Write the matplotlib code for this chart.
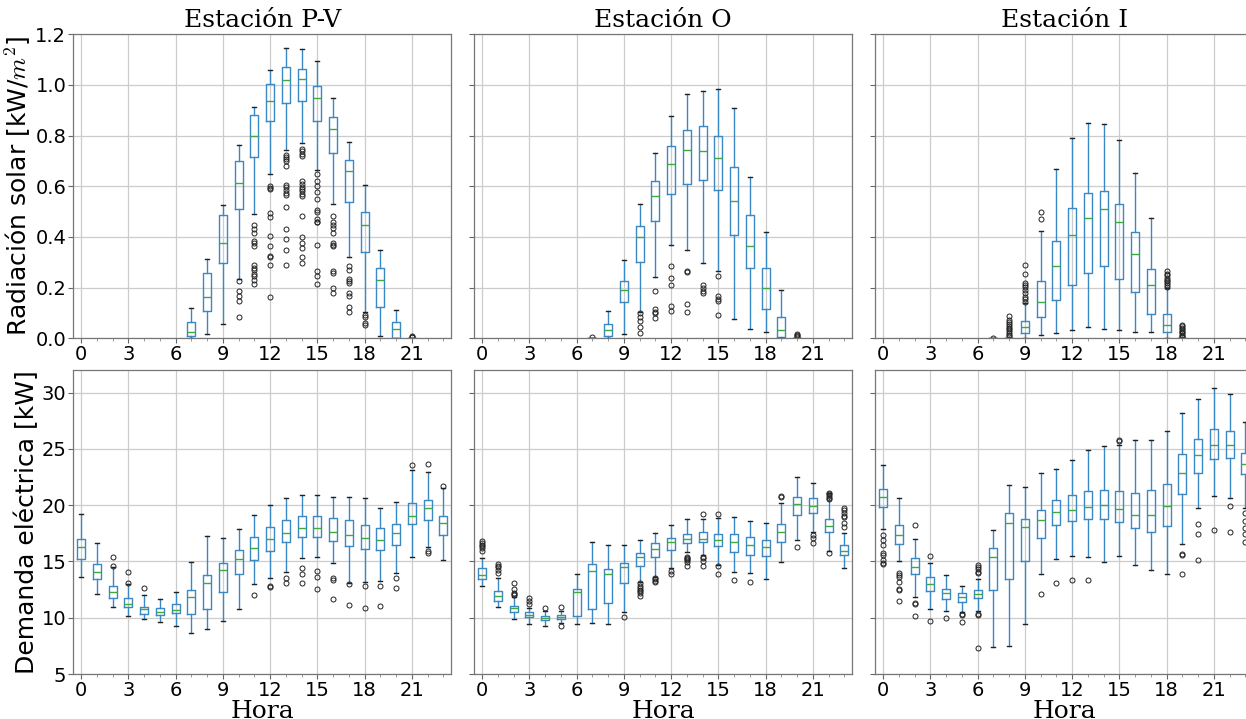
import matplotlib
matplotlib.use("Agg")
import matplotlib.pyplot as plt
from matplotlib.ticker import MultipleLocator

plt.rcParams['mathtext.fontset'] = 'cm'

HOURS = list(range(24))
STATIONS = ["Estación P-V", "Estación O", "Estación I"]
XTICKS = [0, 3, 6, 9, 12, 15, 18, 21]
N = None  # night hours: no radiation box drawn

# ---------------- Solar radiation [kW/m2] ----------------
pv_rad_q1 = [N]*7 + [0.009, 0.106, 0.297, 0.511, 0.716, 0.858, 0.930, 0.938, 0.859, 0.732, 0.537, 0.340, 0.125, 0.003, 0, N, N]
pv_rad_med = [N]*7 + [0.026, 0.162, 0.377, 0.613, 0.800, 0.938, 1.021, 1.025, 0.950, 0.827, 0.662, 0.446, 0.231, 0.036, 0, N, N]
pv_rad_q3 = [N]*7 + [0.066, 0.257, 0.485, 0.699, 0.881, 1.004, 1.069, 1.063, 0.997, 0.873, 0.703, 0.499, 0.277, 0.065, 0, N, N]
pv_rad_lo = [N]*7 + [0.0, 0.016, 0.058, 0.235, 0.491, 0.649, 0.743, 0.769, 0.664, 0.530, 0.319, 0.102, 0.009, 0.0, 0, N, N]
pv_rad_hi = [N]*7 + [0.119, 0.313, 0.525, 0.763, 0.913, 1.059, 1.146, 1.141, 1.095, 0.949, 0.776, 0.606, 0.350, 0.112, 0, N, N]
pv_rad_fl = {
    10: [0.228, 0.188, 0.168, 0.148, 0.083],
    11: [0.449, 0.430, 0.415, 0.385, 0.375, 0.365, 0.290, 0.278, 0.268, 0.255, 0.245, 0.232, 0.215],
    12: [0.602, 0.595, 0.590, 0.495, 0.479, 0.402, 0.365, 0.323, 0.320, 0.288, 0.162],
    13: [0.722, 0.715, 0.708, 0.700, 0.679, 0.607, 0.597, 0.585, 0.575, 0.567, 0.517, 0.430, 0.393, 0.350, 0.288],
    14: [0.749, 0.740, 0.728, 0.719, 0.622, 0.610, 0.598, 0.590, 0.580, 0.568, 0.560, 0.481, 0.400, 0.375, 0.356, 0.319, 0.297],
    15: [0.650, 0.620, 0.600, 0.578, 0.548, 0.505, 0.498, 0.470, 0.460, 0.458, 0.369, 0.264, 0.244, 0.216],
    16: [0.484, 0.460, 0.448, 0.435, 0.416, 0.376, 0.368, 0.363, 0.264, 0.257, 0.198, 0.178],
    17: [0.284, 0.268, 0.234, 0.228, 0.220, 0.180, 0.168, 0.123, 0.102],
    18: [0.092, 0.085, 0.062, 0.053],
    21: [0.004, 0.007, 0.010],
}

o_rad_q1 = [N]*7 + [0, 0.011, 0.142, 0.303, 0.464, 0.571, 0.609, 0.623, 0.586, 0.409, 0.278, 0.115, 0.004, 0, N, N, N]
o_rad_med = [N]*7 + [0, 0.032, 0.191, 0.400, 0.562, 0.689, 0.744, 0.740, 0.710, 0.542, 0.363, 0.198, 0.032, 0, N, N, N]
o_rad_q3 = [N]*7 + [0, 0.057, 0.228, 0.443, 0.620, 0.761, 0.823, 0.839, 0.799, 0.677, 0.488, 0.277, 0.086, 0, N, N, N]
o_rad_lo = [N]*7 + [0, 0.0, 0.016, 0.102, 0.241, 0.368, 0.350, 0.297, 0.264, 0.078, 0.038, 0.026, 0.0, 0, N, N, N]
o_rad_hi = [N]*7 + [0, 0.106, 0.310, 0.532, 0.730, 0.876, 0.963, 0.976, 0.983, 0.910, 0.637, 0.418, 0.191, 0, N, N, N]
o_rad_fl = {
    7: [0.004],
    10: [0.099, 0.086, 0.069, 0.046, 0.020],
    11: [0.187, 0.115, 0.105, 0.099, 0.079],
    12: [0.286, 0.240, 0.211, 0.129, 0.106],
    13: [0.266, 0.262, 0.136, 0.102],
    14: [0.211, 0.198, 0.188, 0.178],
    15: [0.247, 0.168, 0.155, 0.148, 0.091],
    20: [0.016, 0.012, 0.008, 0.004],
}

i_rad_q1 = [N]*7 + [0, 0, 0.020, 0.083, 0.150, 0.210, 0.259, 0.284, 0.234, 0.182, 0.096, 0.025, 0, N, N, N, N]
i_rad_med = [N]*7 + [0, 0, 0.044, 0.144, 0.284, 0.408, 0.475, 0.511, 0.458, 0.331, 0.211, 0.053, 0, N, N, N, N]
i_rad_q3 = [N]*7 + [0, 0.002, 0.070, 0.228, 0.384, 0.515, 0.574, 0.583, 0.530, 0.420, 0.273, 0.096, 0.002, N, N, N, N]
i_rad_lo = [N]*7 + [0, 0, 0.0, 0.013, 0.020, 0.032, 0.046, 0.038, 0.032, 0.025, 0.025, 0.0, 0, N, N, N, N]
i_rad_hi = [N]*7 + [0, 0.004, 0.140, 0.423, 0.669, 0.790, 0.851, 0.847, 0.782, 0.653, 0.475, 0.198, 0.004, N, N, N, N]
i_rad_fl = {
    7: [0.003],
    8: [0.088, 0.073, 0.065, 0.058, 0.050, 0.042, 0.035, 0.028, 0.020, 0.012, 0.008],
    9: [0.290, 0.255, 0.220, 0.210, 0.204, 0.189, 0.180, 0.165, 0.155, 0.145],
    10: [0.500, 0.472],
    18: [0.264, 0.255, 0.248, 0.240, 0.232, 0.225, 0.218, 0.210, 0.204],
    19: [0.053, 0.047, 0.040, 0.035, 0.030, 0.025, 0.020, 0.015, 0.010, 0.006],
}

# ---------------- Electric demand [kW] ----------------
pv_dem_q1 = [15.22, 13.41, 11.72, 10.92, 10.33, 10.24, 10.39, 10.33, 10.78, 12.26, 13.92, 15.10, 15.96, 16.73, 17.20, 17.14, 16.85, 16.40, 16.08, 15.99, 16.43, 18.30, 18.66, 17.35]
pv_dem_med = [16.32, 14.06, 12.26, 11.25, 10.78, 10.54, 10.66, 11.81, 13.06, 14.21, 15.19, 16.17, 16.97, 17.53, 17.94, 17.94, 17.65, 17.32, 17.06, 16.88, 17.50, 19.01, 19.72, 18.39]
pv_dem_q3 = [16.97, 14.78, 12.85, 11.72, 10.98, 10.84, 11.19, 12.46, 13.77, 14.83, 15.99, 17.14, 18.03, 18.68, 19.01, 19.01, 18.83, 18.68, 18.21, 17.94, 18.36, 20.23, 20.46, 19.01]
pv_dem_lo = [13.59, 12.11, 10.92, 10.18, 9.86, 9.59, 9.27, 8.61, 9.00, 9.71, 10.81, 12.97, 13.50, 14.03, 15.28, 15.37, 14.86, 13.06, 13.15, 13.29, 13.95, 15.37, 16.32, 15.10]
pv_dem_hi = [19.19, 16.61, 14.54, 13.00, 11.99, 11.69, 12.26, 14.98, 17.26, 17.06, 17.86, 19.13, 20.02, 20.67, 20.88, 20.88, 20.76, 20.73, 20.61, 19.72, 20.31, 23.13, 22.98, 21.50]
pv_dem_fl = {
    2: [14.60, 15.37], 3: [13.06, 14.09], 4: [12.61], 11: [11.99], 12: [12.85, 12.76],
    13: [13.50, 13.06], 14: [14.39, 13.92, 13.12], 15: [14.18, 13.62, 12.55],
    16: [13.50, 13.35, 11.63], 17: [13.00, 11.13], 18: [12.85, 10.89], 19: [12.79, 11.07],
    20: [13.50, 12.61], 21: [23.60], 22: [15.96, 15.72, 23.63], 23: [21.70],
}

o_dem_q1 = [13.41, 11.52, 10.48, 10.04, 9.77, 9.86, 10.15, 10.78, 11.34, 13.06, 14.63, 15.37, 15.99, 16.61, 16.70, 16.35, 15.81, 15.57, 15.52, 16.76, 19.13, 19.28, 17.62, 15.55]
o_dem_med = [13.77, 11.90, 10.84, 10.27, 9.98, 10.09, 12.29, 14.15, 13.92, 14.48, 15.40, 16.14, 16.70, 16.97, 17.03, 16.88, 16.70, 16.43, 16.26, 17.62, 20.08, 19.90, 18.15, 15.90]
o_dem_q3 = [14.39, 12.38, 11.07, 10.48, 10.18, 10.27, 12.52, 14.80, 14.36, 14.83, 15.72, 16.61, 17.11, 17.47, 17.62, 17.41, 17.41, 17.17, 16.88, 18.30, 20.76, 20.61, 18.74, 16.46]
o_dem_lo = [12.85, 10.95, 9.89, 9.41, 9.30, 9.50, 9.41, 9.50, 9.44, 10.48, 13.18, 13.65, 14.39, 15.81, 15.57, 14.66, 14.09, 13.95, 13.44, 14.95, 16.91, 17.62, 15.96, 14.39]
o_dem_hi = [15.28, 13.50, 11.87, 10.84, 10.63, 10.63, 13.86, 16.70, 16.46, 16.46, 16.88, 17.50, 18.21, 18.74, 18.77, 18.83, 18.92, 18.63, 18.39, 20.17, 22.48, 21.94, 21.05, 17.50]
o_dem_fl = {
    0: [16.82, 16.65, 16.50, 16.35, 16.20, 15.93], 1: [14.77, 14.60, 14.50, 14.25, 13.95],
    2: [13.06, 12.52, 12.20, 12.10, 12.00], 3: [11.78, 11.49, 11.19], 4: [10.89], 5: [10.95, 9.30],
    9: [10.07], 10: [13.06, 12.80, 12.65, 12.50, 12.35, 12.20, 11.90], 11: [13.50, 13.40, 13.30, 13.20],
    12: [14.15, 13.92], 13: [15.43, 15.30, 15.20, 15.10, 14.98, 14.57], 14: [19.19, 15.43, 15.30, 15.07, 14.57],
    15: [19.19, 14.57, 13.86], 16: [13.35], 17: [13.15], 19: [20.82, 20.72], 20: [16.32],
    21: [17.35, 17.05, 16.60], 22: [21.10, 20.95, 20.80, 20.65, 20.50, 15.72],
    23: [19.78, 19.55, 19.30, 19.05, 18.90, 18.45, 18.10],
}

i_dem_q1 = [19.87, 16.52, 13.86, 12.38, 11.64, 11.37, 11.72, 12.46, 13.47, 15.01, 17.06, 18.24, 18.57, 18.80, 18.80, 18.51, 17.94, 17.62, 18.12, 21.02, 22.89, 24.08, 24.16, 22.74]
i_dem_med = [20.70, 17.32, 14.48, 12.97, 12.17, 11.81, 12.08, 15.40, 18.39, 18.03, 18.66, 19.37, 19.57, 19.81, 19.99, 19.69, 19.13, 19.10, 19.90, 22.89, 24.49, 25.38, 25.38, 23.63]
i_dem_q3 = [21.41, 18.21, 15.28, 13.59, 12.55, 12.17, 12.43, 16.17, 19.28, 18.80, 19.54, 20.46, 20.94, 21.23, 21.35, 21.23, 21.11, 21.35, 21.85, 24.58, 25.91, 26.80, 26.62, 24.67]
i_dem_lo = [17.86, 15.04, 11.81, 10.75, 10.57, 10.48, 10.63, 7.37, 7.52, 9.41, 13.92, 15.25, 15.46, 15.40, 14.92, 15.46, 14.66, 14.21, 13.92, 16.52, 19.72, 20.79, 20.61, 19.72]
i_dem_hi = [23.60, 20.67, 17.03, 14.86, 13.77, 12.82, 13.47, 17.77, 21.82, 21.65, 22.83, 23.19, 24.05, 24.88, 25.23, 25.35, 25.79, 25.76, 26.56, 28.16, 29.44, 30.36, 29.85, 27.36]
i_dem_fl = {
    0: [17.35, 16.91, 16.46, 15.78, 15.60, 15.13, 14.90, 14.77], 1: [13.95, 13.80, 13.60, 13.20, 12.52, 12.45, 11.52],
    2: [18.21, 11.34, 11.19, 10.15], 3: [15.52, 9.71], 4: [10.01], 5: [10.33, 10.21, 9.65],
    6: [14.69, 14.50, 14.30, 14.10, 13.95, 10.33, 10.25, 7.28], 10: [12.08], 11: [13.12], 12: [13.32],
    13: [13.32], 15: [25.80, 25.65], 19: [15.65, 15.55, 13.92], 20: [18.30, 17.41, 15.10],
    21: [17.80], 22: [19.93, 17.62], 23: [19.28, 18.60, 18.00, 17.40, 16.70],
}

RAD = [
    (pv_rad_q1, pv_rad_med, pv_rad_q3, pv_rad_lo, pv_rad_hi, pv_rad_fl),
    (o_rad_q1, o_rad_med, o_rad_q3, o_rad_lo, o_rad_hi, o_rad_fl),
    (i_rad_q1, i_rad_med, i_rad_q3, i_rad_lo, i_rad_hi, i_rad_fl),
]
DEM = [
    (pv_dem_q1, pv_dem_med, pv_dem_q3, pv_dem_lo, pv_dem_hi, pv_dem_fl),
    (o_dem_q1, o_dem_med, o_dem_q3, o_dem_lo, o_dem_hi, o_dem_fl),
    (i_dem_q1, i_dem_med, i_dem_q3, i_dem_lo, i_dem_hi, i_dem_fl),
]


def make_stats(q1, med, q3, lo, hi, fl):
    pos, stats = [], []
    for h in HOURS:
        if med[h] is None:
            continue
        pos.append(h)
        stats.append(dict(q1=q1[h], med=med[h], q3=q3[h], whislo=lo[h],
                          whishi=hi[h], fliers=fl.get(h, [])))
    return pos, stats


W, H = 1246, 719
fig = plt.figure(figsize=(W / 100, H / 100), dpi=100)
lefts = [73.3, 474.3, 875.3]
aw = 378.0
tops = [34.3, 370.0]
ah = 304.0

BOXC = '#3a88c4'
boxprops = dict(color=BOXC, linewidth=1.0)
whiskerprops = dict(color=BOXC, linewidth=1.0)
capprops = dict(color='#222222', linewidth=1.0)
medianprops = dict(color='#3caa3c', linewidth=1.0)
flierprops = dict(marker='o', markerfacecolor='none', markeredgecolor='#222222',
                  markersize=3.6, markeredgewidth=0.7, linestyle='none')

for row, data in enumerate([RAD, DEM]):
    for col in range(3):
        ax = fig.add_axes([lefts[col] / W, 1 - (tops[row] + ah) / H, aw / W, ah / H])
        pos, stats = make_stats(*data[col])
        ax.bxp(stats, positions=pos, widths=0.5, boxprops=boxprops,
               whiskerprops=whiskerprops, capprops=capprops,
               medianprops=medianprops, flierprops=flierprops, manage_ticks=False)
        ax.set_xlim(-0.5, 23.5)
        if row == 0:
            ax.set_ylim(0, 1.2)
            ax.yaxis.set_major_locator(MultipleLocator(0.2))
            ax.set_title(STATIONS[col], family='DejaVu Serif', fontsize=18, pad=5)
            if col == 0:
                ax.set_yticks([0, 0.2, 0.4, 0.6, 0.8, 1.0, 1.2])
                ax.set_yticklabels(["0.0", "0.2", "0.4", "0.6", "0.8", "1.0", "1.2"])
                ax.set_ylabel("Radiación solar [kW/$m^2$]", fontsize=18, labelpad=2)
        else:
            ax.set_ylim(5, 32)
            ax.yaxis.set_major_locator(MultipleLocator(5))
            ax.set_xlabel("Hora", family='DejaVu Serif', fontsize=18, labelpad=0)
            if col == 0:
                ax.set_ylabel("Demanda eléctrica [kW]", fontsize=18, labelpad=2)
        if col != 0:
            ax.tick_params(axis='y', labelleft=False)
        ax.set_xticks(XTICKS)
        ax.set_xticklabels([str(t) for t in XTICKS])
        ax.xaxis.set_minor_locator(MultipleLocator(1))
        ax.grid(True, which='major', color='#cccccc', linewidth=0.9)
        ax.set_axisbelow(True)
        ax.tick_params(which='major', labelsize=14, length=3.5, color='#666666', pad=1.5)
        ax.tick_params(which='minor', length=2, color='#888888')
        for sp in ax.spines.values():
            sp.set_color('#777777')
            sp.set_linewidth(0.9)

fig.savefig("out.png", dpi=100)
